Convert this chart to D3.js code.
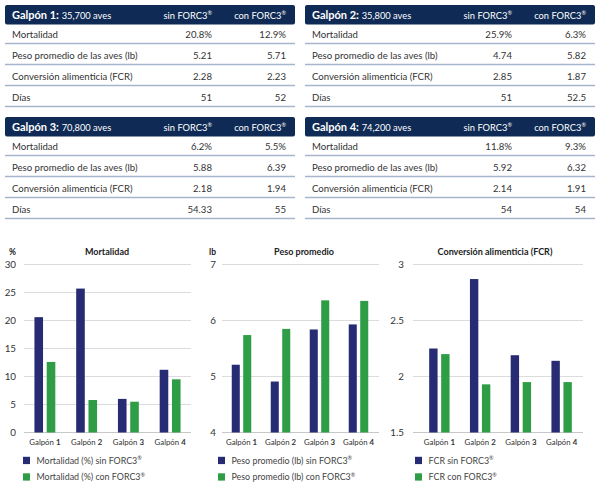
<!DOCTYPE html>
<html>
<head>
<meta charset="utf-8">
<script src="https://cdn.jsdelivr.net/npm/d3@7"></script>
<style>
body { margin: 0; background: #fff; }
text { font-family: Lato, "Noto Sans", sans-serif; }
</style>
</head>
<body>
<script>
// ---- data ----
var galpones = ["Galpón 1", "Galpón 2", "Galpón 3", "Galpón 4"];
var aves = ["35,700", "35,800", "70,800", "74,200"];
var rowLabels = ["Mortalidad", "Peso promedio de las aves (lb)", "Conversión alimenticia (FCR)", "Días"];
var tablaSin = [
    ["20.8%", "5.21", "2.28", "51"],
    ["25.9%", "4.74", "2.85", "51"],
    ["6.2%", "5.88", "2.18", "54.33"],
    ["11.8%", "5.92", "2.14", "54"]
];
var tablaCon = [
    ["12.9%", "5.71", "2.23", "52"],
    ["6.3%", "5.82", "1.87", "52.5"],
    ["5.5%", "6.39", "1.94", "55"],
    ["9.3%", "6.32", "1.91", "54"]
];

// values
var mortSin = [20.6, 25.7, 6.0, 11.2];
var mortCon = [12.6, 5.8, 5.5, 9.5];
var pesoSin = [5.21, 4.91, 5.84, 5.93];
var pesoCon = [5.74, 5.85, 6.36, 6.35];
var fcrSin = [2.25, 2.87, 2.19, 2.14];
var fcrCon = [2.20, 1.93, 1.95, 1.95];

var navy = "#262b73", green = "#2e9d45", header = "#0f2b55";

var svg = d3.select("body").append("svg")
    .attr("width", 600)
    .attr("height", 489);

// ****************** tables ***************************
var tablePos = [[5, 5], [305, 5], [5, 117], [305, 117]];
var tw = 290;

galpones.forEach(function (g, i) {
    var t = svg.append("g")
        .attr("transform", "translate(" + tablePos[i][0] + "," + tablePos[i][1] + ")");

    t.append("rect")
        .attr("width", tw).attr("height", 19.5)
        .attr("rx", 2)
        .attr("fill", header);

    var ht = t.append("text")
        .attr("x", 7).attr("y", 14)
        .attr("fill", "#fff");
    ht.append("tspan").attr("font-weight", "bold").attr("font-size", "11px").text(g + ": ");
    ht.append("tspan").attr("font-size", "9.3px").text(aves[i] + " aves");

    [["sin", 207], ["con", 281]].forEach(function (c) {
        var ct = t.append("text")
            .attr("x", c[1]).attr("y", 13.5)
            .attr("text-anchor", "end")
            .attr("fill", "#fff")
            .attr("font-size", "9.3px");
        ct.append("tspan").text(c[0] + " FORC3");
        ct.append("tspan").attr("font-size", "5.5px").attr("dy", -3.5).text("®");
    });

    rowLabels.forEach(function (r, j) {
        var lineY = 38.5 + j * 21;
        var textY = lineY - 6;
        t.append("line")
            .attr("x1", 0).attr("x2", tw)
            .attr("y1", lineY).attr("y2", lineY)
            .attr("stroke", "#a6b5cb")
            .attr("stroke-width", 1.4);
        t.append("text")
            .attr("x", 7).attr("y", textY)
            .attr("font-size", "9.6px").attr("fill", "#333")
            .text(r);
        t.append("text")
            .attr("x", 207).attr("y", textY)
            .attr("text-anchor", "end")
            .attr("font-size", "9.6px").attr("fill", "#333")
            .text(tablaSin[i][j]);
        t.append("text")
            .attr("x", 281).attr("y", textY)
            .attr("text-anchor", "end")
            .attr("font-size", "9.6px").attr("fill", "#333")
            .text(tablaCon[i][j]);
    });
});

// ****************** charts ***************************
var charts = [
    { title: "Mortalidad", unit: "%", sin: mortSin, con: mortCon, domain: [0, 30], ticks: [0, 5, 10, 15, 20, 25, 30],
      gridX: [24, 191], bandX: [24, 191], axisX: 16, leg: ["Mortalidad (%) sin FORC3", "Mortalidad (%) con FORC3"], legX: 23, titleX: 107 },
    { title: "Peso promedio", unit: "lb", sin: pesoSin, con: pesoCon, domain: [4, 7], ticks: [4, 5, 6, 7],
      gridX: [222, 379], bandX: [222, 378], axisX: 216, leg: ["Peso promedio (lb) sin FORC3", "Peso promedio (lb) con FORC3"], legX: 218, titleX: 304 },
    { title: "Conversión alimenticia (FCR)", unit: "", sin: fcrSin, con: fcrCon, domain: [1.5, 3], ticks: [1.5, 2, 2.5, 3],
      gridX: [413, 583], bandX: [419, 582], axisX: 404, leg: ["FCR sin FORC3", "FCR con FORC3"], legX: 415, titleX: 495 }
];

charts.forEach(function (c) {
    var g = svg.append("g");

    var y = d3.scaleLinear().domain(c.domain).range([432.5, 264.5]);
    var x0 = d3.scaleBand().domain(galpones).range(c.bandX);
    var x1 = d3.scaleBand().domain(["sin", "con"])
        .range([x0.bandwidth() * 0.25, x0.bandwidth() * 0.75])
        .paddingInner(0.3);

    // grid lines
    g.selectAll("line.grid")
        .data(c.ticks)
        .enter().append("line")
        .attr("class", "grid")
        .attr("x1", c.gridX[0]).attr("x2", c.gridX[1])
        .attr("y1", function (d) { return y(d); })
        .attr("y2", function (d) { return y(d); })
        .attr("stroke", function (d, k) { return k === 0 ? "#c8c8c8" : "#dcdcdc"; })
        .attr("stroke-width", 1);

    // y axis labels
    g.selectAll("text.tick")
        .data(c.ticks)
        .enter().append("text")
        .attr("class", "tick")
        .attr("x", c.axisX)
        .attr("y", function (d) { return y(d) + 3.5; })
        .attr("text-anchor", "end")
        .attr("font-size", "9.8px")
        .attr("fill", "#333")
        .text(function (d) { return d; });

    if (c.unit) {
        g.append("text")
            .attr("x", c.axisX).attr("y", 255)
            .attr("text-anchor", "end")
            .attr("font-size", "8.5px").attr("font-weight", "bold")
            .attr("fill", "#222")
            .text(c.unit);
    }

    g.append("text")
        .attr("x", c.titleX).attr("y", 255)
        .attr("text-anchor", "middle")
        .attr("font-size", "9px").attr("font-weight", "bold")
        .attr("fill", "#222")
        .text(c.title);

    // bars
    var groups = g.selectAll("g.grp")
        .data(galpones)
        .enter().append("g")
        .attr("class", "grp")
        .attr("transform", function (d) { return "translate(" + x0(d) + ",0)"; });

    groups.selectAll("rect")
        .data(function (d, i) {
            return [{ k: "sin", v: c.sin[i] }, { k: "con", v: c.con[i] }];
        })
        .enter().append("rect")
        .attr("x", function (d) { return x1(d.k); })
        .attr("width", x1.bandwidth())
        .attr("y", function (d) { return y(d.v); })
        .attr("height", function (d) { return y(c.domain[0]) - y(d.v); })
        .attr("fill", function (d) { return d.k === "sin" ? navy : green; });

    // x labels
    groups.each(function (d) {
        var parts = d.split(" ");
        var t = d3.select(this).append("text")
            .attr("x", x0.bandwidth() / 2)
            .attr("y", 444.5)
            .attr("text-anchor", "middle")
            .attr("font-size", "7.8px")
            .attr("fill", "#333");
        t.append("tspan").text(parts[0] + " ");
        t.append("tspan").attr("font-weight", "bold").text(parts[1]);
    });

    // legend
    c.leg.forEach(function (l, k) {
        var ly = 460.5 + k * 16.5;
        g.append("rect")
            .attr("x", c.legX).attr("y", ly - 3.7)
            .attr("width", 7).attr("height", 7.3)
            .attr("fill", k === 0 ? navy : green);
        var lt = g.append("text")
            .attr("x", c.legX + 13.5).attr("y", ly + 3.3)
            .attr("font-size", "8.9px")
            .attr("fill", "#444");
        lt.append("tspan").text(l);
        lt.append("tspan").attr("font-size", "5.5px").attr("dy", -3.5).text("®");
    });
});
</script>
</body>
</html>
